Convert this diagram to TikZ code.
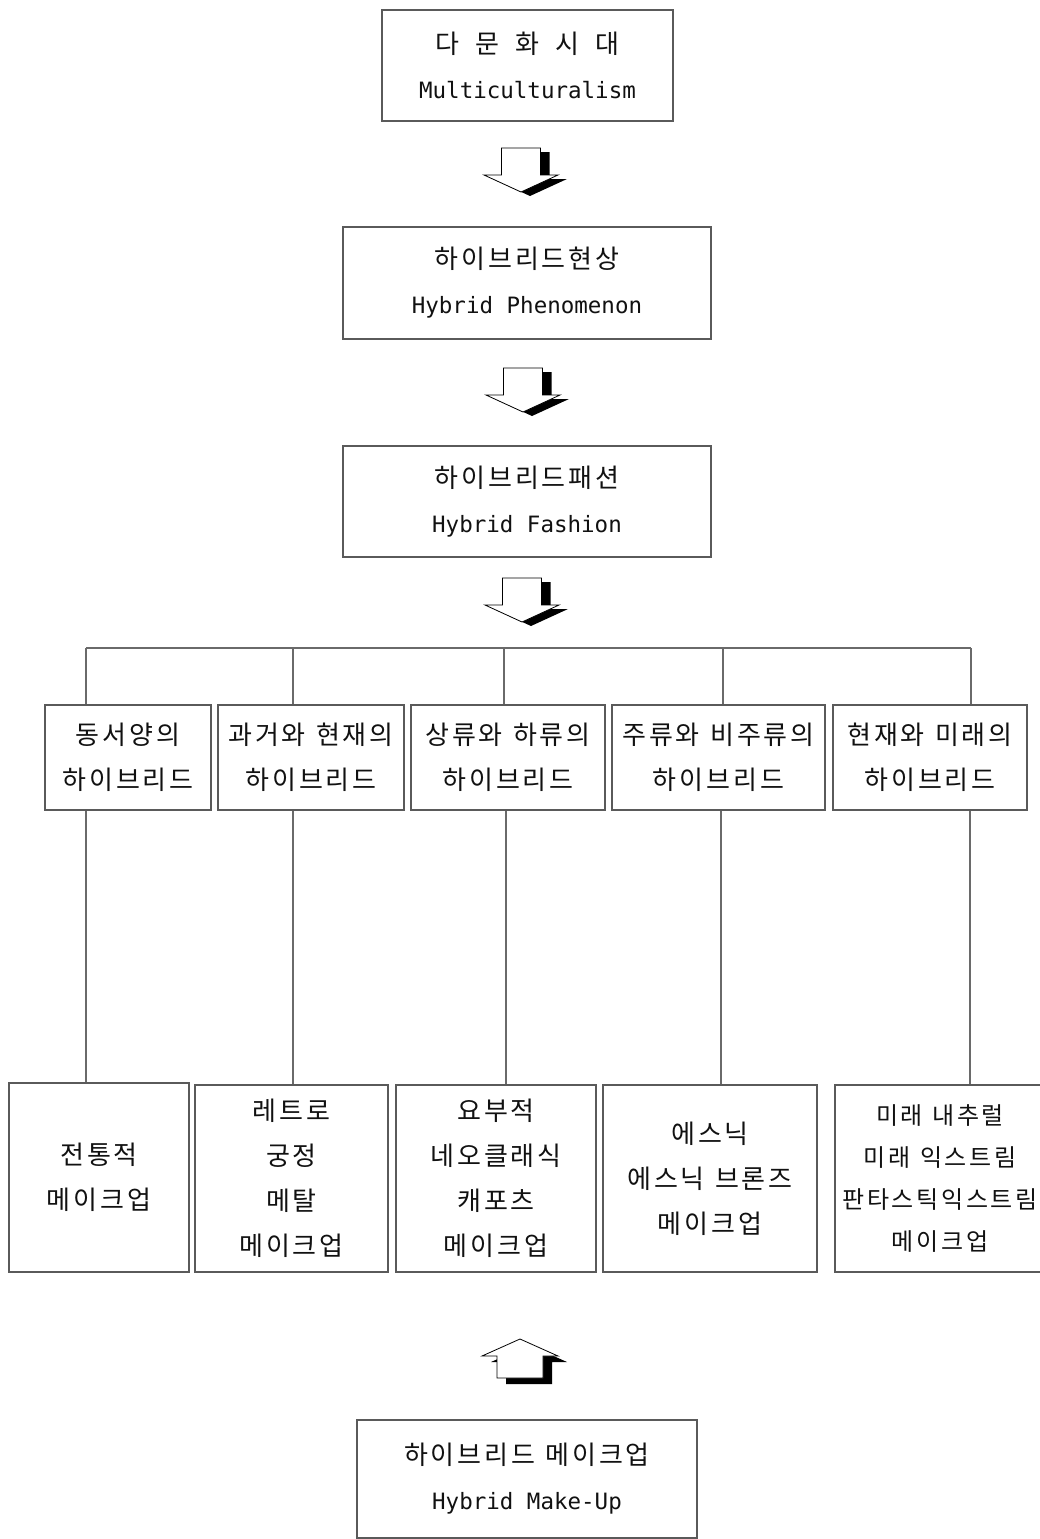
\documentclass[tikz,border=0pt]{standalone}
\usepackage{fontspec}
\setmainfont{Noto Sans CJK KR}[LetterSpace=11]
\newfontfamily\latf{DejaVu Sans Mono}
\newcommand\ks{\hspace{0.4em}}
\newcommand\wks{\hspace{0.62em}}
\newcommand\lt[1]{{\latf\fontsize{22.5}{46}\selectfont #1}}
\definecolor{boxc}{HTML}{5A5A5A}
\definecolor{linec}{HTML}{6A6A6A}
\definecolor{txtc}{HTML}{111111}
\begin{document}
\begin{tikzpicture}[x=1pt,y=-1pt,
  box/.style={draw=boxc, line width=1.3pt, fill=white, inner sep=0pt, align=center,
    font=\fontsize{26}{45}\selectfont, text=txtc},
  conn/.style={draw=linec, line width=1.1pt},
  darr/.pic={
    \fill[black, shift={(9,4)}] (-19.5,0) -- (19.5,0) -- (19.5,27) -- (37,27) -- (0,44) -- (-37,27) -- (-19.5,27) -- cycle;
    \draw[fill=white, line width=0.8pt] (-19.5,0) -- (19.5,0) -- (19.5,27) -- (37,27) -- (0,44) -- (-37,27) -- (-19.5,27) -- cycle;
  },
  uarr/.pic={
    \fill[black, shift={(9,6)}] (0,0) -- (38,17) -- (23,17) -- (23,39) -- (-23,39) -- (-23,17) -- (-38,17) -- cycle;
    \draw[fill=white, line width=0.8pt] (0,0) -- (38,17) -- (23,17) -- (23,39) -- (-23,39) -- (-23,17) -- (-38,17) -- cycle;
  }]
\useasboundingbox (0,0) rectangle (1040,1539);
\clip (0,0) rectangle (1040,1539);
\fill[white] (0,0) rectangle (1040,1539);

% top chain
\node[box, minimum width=291, minimum height=111] (top) at (527.5,65.5)
  {다\wks 문\wks 화\wks 시\wks 대\\\lt{Multiculturalism}};
\node[box, minimum width=368, minimum height=112] (phen) at (527,283)
  {하이브리드현상\\\lt{Hybrid Phenomenon}};
\node[box, minimum width=368, minimum height=111] (fash) at (527,501.5)
  {하이브리드패션\\\lt{Hybrid Fashion}};

\pic at (521,148) {darr};
\pic at (523,368) {darr};
\pic at (522,578) {darr};

% middle row
\node[box, minimum width=166, minimum height=105] (b1) at (128,757.5) {동서양의\\하이브리드};
\node[box, minimum width=186, minimum height=105] (b2) at (311,757.5) {과거와\ks 현재의\\하이브리드};
\node[box, minimum width=194, minimum height=105] (b3) at (508,757.5) {상류와\ks 하류의\\하이브리드};
\node[box, minimum width=213, minimum height=105] (b4) at (718.5,757.5) {주류와\ks 비주류의\\하이브리드};
\node[box, minimum width=194, minimum height=105] (b5) at (930,757.5) {현재와\ks 미래의\\하이브리드};

% bottom row
\node[box, minimum width=180, minimum height=189] (c1) at (99,1177.5) {전통적\\메이크업};
\node[box, minimum width=193, minimum height=187] (c2) at (291.5,1178.5) {레트로\\궁정\\메탈\\메이크업};
\node[box, minimum width=200, minimum height=187] (c3) at (496,1178.5) {요부적\\네오클래식\\캐포츠\\메이크업};
\node[box, minimum width=214, minimum height=187] (c4) at (710,1178.5) {에스닉\\에스닉\ks 브론즈\\메이크업};
\node[box, minimum width=210, minimum height=187, font=\fontsize{24}{42}\selectfont] (c5) at (940,1178.5)
  {미래\ks 내추럴\\미래\ks 익스트림\\판타스틱익스트림\\메이크업};

% connectors
\coordinate (j1) at (86,648);
\coordinate (j2) at (293,648);
\coordinate (j3) at (504,648);
\coordinate (j4) at (723,648);
\coordinate (j5) at (971,648);
\coordinate (k1) at (86,810);
\coordinate (k2) at (293,810);
\coordinate (k3) at (506,810);
\coordinate (k4) at (721,810);
\coordinate (k5) at (970,810);
\draw[conn] (j1) -- (j5);
\foreach \i in {1,...,5}{
  \draw[conn] (j\i) -- (j\i |- b\i.north);
  \draw[conn] (k\i |- b\i.south) -- (k\i |- c\i.north);
}

\pic at (520,1339) {uarr};

\node[box, minimum width=340, minimum height=118] (mk) at (527,1479)
  {하이브리드\ks 메이크업\\\lt{Hybrid Make-Up}};
\end{tikzpicture}
\end{document}
